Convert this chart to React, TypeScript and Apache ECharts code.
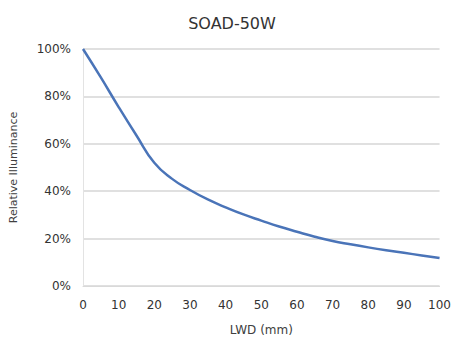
import React, { useEffect, useRef } from "react";
import * as echarts from "echarts";

const xValues = [0, 5, 10, 15, 20, 25, 30, 35, 40, 45, 50, 55, 60, 65, 70, 75, 80, 85, 90, 95, 100];
const illuminance = [
  1.0, 0.88, 0.755, 0.635, 0.52, 0.452, 0.405, 0.365, 0.332, 0.302, 0.276, 0.251,
  0.229, 0.208, 0.19, 0.176, 0.163, 0.151, 0.14, 0.129, 0.118,
];
const titleText = "SOAD-50W";
const xName = "LWD (mm)";
const yName = "Relative Illuminance";

export default function App() {
  const ref = useRef<HTMLDivElement>(null);
  useEffect(() => {
    if (!ref.current) return;
    const chart = echarts.init(ref.current, undefined, { renderer: "svg" });
    const font = "'DejaVu Sans', 'Open Sans', sans-serif";
    chart.setOption({
      animation: false,
      backgroundColor: "#ffffff",
      title: {
        text: titleText,
        left: 227,
        textAlign: "center",
        top: 10,
        textStyle: { fontFamily: font, fontSize: 16, fontWeight: "normal", color: "#333" },
      },
      grid: { left: 80, right: 13, top: 49, bottom: 55, containLabel: false },
      xAxis: {
        type: "value",
        min: 0,
        max: 100,
        interval: 10,
        name: xName,
        nameLocation: "middle",
        nameGap: 38,
        nameTextStyle: { fontFamily: font, fontSize: 12, color: "#404040" },
        axisLine: { show: true, lineStyle: { color: "#d9d9d9", width: 1 } },
        axisTick: { show: false },
        splitLine: { show: false },
        axisLabel: { fontFamily: font, fontSize: 12, color: "#333", margin: 13 },
      },
      yAxis: {
        type: "value",
        min: 0,
        max: 1,
        interval: 0.2,
        name: yName,
        nameLocation: "middle",
        nameGap: 64,
        nameTextStyle: { fontFamily: font, fontSize: 11, color: "#404040" },
        axisLine: { show: true, lineStyle: { color: "#e3e3e3", width: 1 } },
        axisTick: { show: false },
        splitLine: { show: true, lineStyle: { color: "#d6d6d6", width: 1.5 } },
        axisLabel: {
          fontFamily: font,
          fontSize: 12,
          color: "#333",
          margin: 12,
          formatter: (v: number) => Math.round(v * 100) + "%",
        },
      },
      series: [
        {
          type: "line",
          data: xValues.map((x, i) => [x, illuminance[i]]),
          smooth: 0.5,
          showSymbol: false,
          lineStyle: { color: "#4a74b8", width: 2.5 },
        },
      ],
    });
    return () => chart.dispose();
  }, []);
  return (
    <div
      ref={ref}
      style={{ position: "absolute", left: 0, top: 0, width: 454, height: 341 }}
    />
  );
}
